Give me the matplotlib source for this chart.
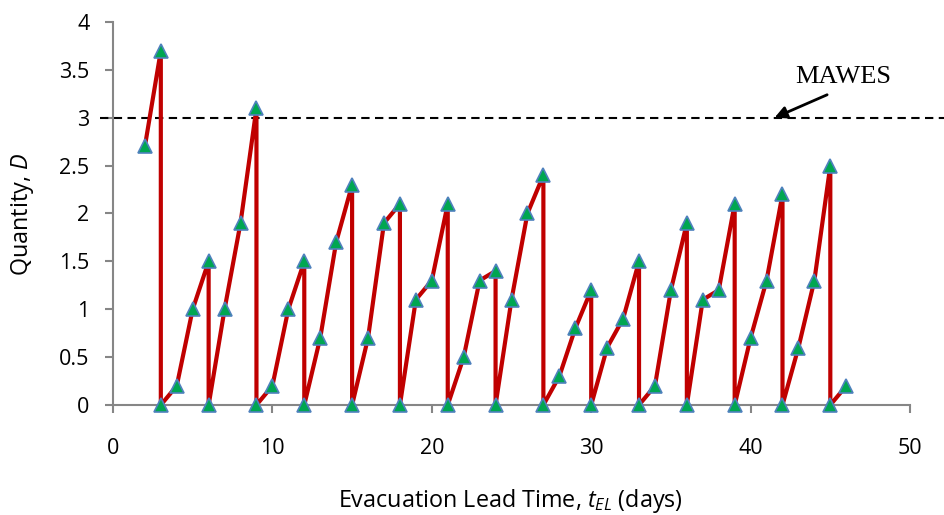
import matplotlib
matplotlib.use('Agg')
import matplotlib.pyplot as plt

# Sawtooth quantity profile: each drop to zero repeats the day
days = [2, 3, 3, 4, 5, 6, 6, 7, 8, 9, 9, 10, 11, 12, 12, 13, 14, 15, 15,
        16, 17, 18, 18, 19, 20, 21, 21, 22, 23, 24, 24, 25, 26, 27, 27, 28,
        29, 30, 30, 31, 32, 33, 33, 34, 35, 36, 36, 37, 38, 39, 39, 40, 41,
        42, 42, 43, 44, 45, 45, 46]
quantity = [2.7, 3.7, 0, 0.2, 1.0, 1.5, 0, 1.0, 1.9, 3.1, 0, 0.2, 1.0, 1.5, 0,
            0.7, 1.7, 2.3, 0, 0.7, 1.9, 2.1, 0, 1.1, 1.3, 2.1, 0, 0.5, 1.3, 1.4,
            0, 1.1, 2.0, 2.4, 0, 0.3, 0.8, 1.2, 0, 0.6, 0.9, 1.5, 0, 0.2, 1.2,
            1.9, 0, 1.1, 1.2, 2.1, 0, 0.7, 1.3, 2.2, 0, 0.6, 1.3, 2.5, 0, 0.2]
mawes = 3.0
xticks = [0, 10, 20, 30, 40, 50]
yticks = [0, 0.5, 1, 1.5, 2, 2.5, 3, 3.5, 4]
ytick_labels = ['0', '0.5', '1', '1.5', '2', '2.5', '3', '3.5', '4']

plt.rcParams['font.family'] = 'Open Sans'
plt.rcParams['mathtext.fontset'] = 'custom'
plt.rcParams['mathtext.rm'] = 'Open Sans'
plt.rcParams['mathtext.it'] = 'Open Sans:italic'

fig = plt.figure(figsize=(9.44, 5.15), dpi=100)
ax = fig.add_axes([0.1197, 0.2136, 0.8443, 0.7437])

ax.plot(days, quantity, color='#C00000', lw=3, marker='^', markersize=10,
        markerfacecolor='#00A651', markeredgecolor='#4F81BD',
        markeredgewidth=1.2, zorder=3, clip_on=False)

# limit line runs a little past both ends of the plot
ax.plot([-0.8, 52.2], [mawes, mawes], color='black', lw=1.5,
        ls=(0, (4, 2.6)), clip_on=False, zorder=2)

ax.annotate('', xy=(41.5, 3.0), xytext=(44.8, 3.24),
            arrowprops=dict(arrowstyle='-|>', color='black', lw=2,
                            mutation_scale=18, shrinkA=0, shrinkB=0))
ax.text(45.8, 3.43, 'MAWES', family='Liberation Serif', fontsize=19,
        ha='center', va='center')

ax.set_xlim(0, 50)
ax.set_ylim(0, 4)
ax.set_xticks(xticks)
ax.set_yticks(yticks)
ax.set_yticklabels(ytick_labels)

for side in ['top', 'right']:
    ax.spines[side].set_visible(False)
for side in ['left', 'bottom']:
    ax.spines[side].set_color('#868686')
    ax.spines[side].set_linewidth(1.5)
ax.tick_params(axis='both', colors='#868686', length=6, width=1.5,
               labelcolor='black', labelsize=15.5)
ax.tick_params(axis='x', pad=18)
ax.tick_params(axis='y', pad=11)

fig.text(0.541, 0.016, r'Evacuation Lead Time, $t_{EL}$ (days)',
         ha='center', va='baseline', fontsize=16.8)
fig.text(0.024, 0.584, r'Quantity, $D$', rotation=90,
         ha='center', va='center', fontsize=16.8)

fig.savefig('out.png', dpi=100)
